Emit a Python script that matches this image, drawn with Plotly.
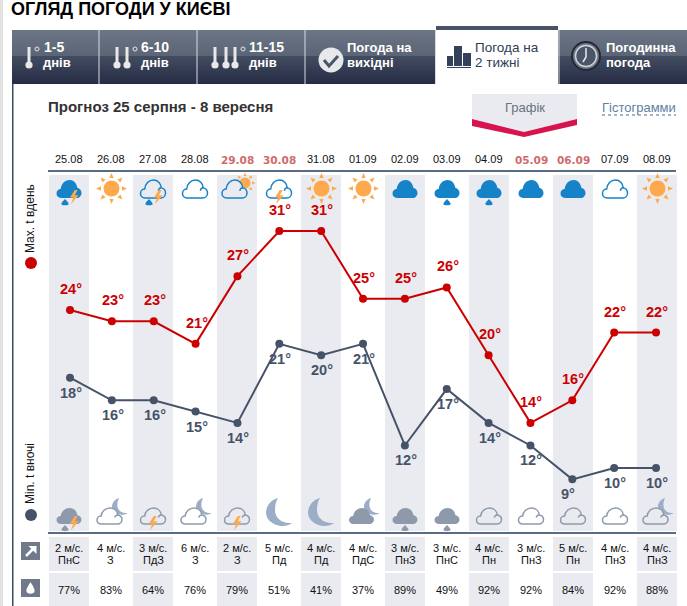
import math
import plotly.graph_objects as go

W, H = 687, 606

# ---- data ----
dates = ["25.08","26.08","27.08","28.08","29.08","30.08","31.08","01.09","02.09","03.09","04.09","05.09","06.09","07.09","08.09"]
weekend = [0,0,0,0,1,1,0,0,0,0,0,1,1,0,0]
max_temps = [24,23,23,21,27,31,31,25,25,26,20,14,16,22,22]
min_temps = [18,16,16,15,14,21,20,21,12,17,14,12,9,10,10]
wind_speed = [2,4,3,6,2,5,4,4,3,3,4,3,5,4,4]
wind_dir = ["ПнС","З","ПдЗ","З","З","Пд","Пд","ПдС","ПнЗ","ПнС","Пн","ПнЗ","Пн","ПнЗ","ПнЗ"]
humidity = [77,83,64,76,79,51,41,37,89,49,92,92,84,92,88]
day_icons = ["fill+drop+bolt","sun","line+drop+bolt","line","line+sun","line+bolt","sun","sun","fill","fill+drop","fill+drop","fill","fill","line","sun"]
night_icons = ["fill+drop+bolt","line+moon","line+bolt","line+moon","line+bolt","moon","moon","fill+moon","fill+drop","fill+drop","line","line","line","line","line+moon"]
tabs = [("1-5","днів"),("6-10","днів"),("11-15","днів"),("Погода на","вихідні"),("Погода на","2 тижні"),("Погодинна","погода")]

# ---- style ----
RED="#cc0000"; SLATE="#465268"; BLUE="#1682c8"; ORANGE="#ffa94d"; NIGHT="#8e9aac"; MOON="#9cadc8"
SHADE="#e9ebf0"; FONT="Liberation Sans"
X0, DX = 70, 41.86
T_REF, Y_REF, PX_DEG = 24, 310, 11.29

shapes=[]; ann=[]
def P(x,y): return f"{x/W:.5f},{1-y/H:.5f}"
def rect(x0,y0,x1,y1,c,layer="below"):
    shapes.append(dict(type="rect",xref="paper",yref="paper",x0=x0/W,x1=x1/W,y0=1-y1/H,y1=1-y0/H,fillcolor=c,line_width=0,layer=layer))
def circle(cx,cy,r,c,line=None,lw=0):
    shapes.append(dict(type="circle",xref="paper",yref="paper",x0=(cx-r)/W,x1=(cx+r)/W,y0=1-(cy+r)/H,y1=1-(cy-r)/H,fillcolor=c,line=dict(color=line or c,width=lw),layer="below"))
def path(cmds,fill=None,line=None,lw=0,closed=True):
    parts=[]
    for cmd in cmds:
        parts.append(cmd[0]+" ".join(P(*p) for p in cmd[1:]))
    s=" ".join(parts)+(" Z" if closed else "")
    d=dict(type="path",xref="paper",yref="paper",path=s,layer="below",line=dict(color=line or "rgba(0,0,0,0)",width=lw))
    if fill: d["fillcolor"]=fill
    shapes.append(d)
def text(x,y,s,size=11,color="#111",bold=False,anchor="center",fam=FONT,angle=0):
    if bold: s=f"<b>{s}</b>"
    ann.append(dict(x=x/W,y=1-y/H,xref="paper",yref="paper",text=s,showarrow=False,xanchor=anchor,yanchor="middle",
                    font=dict(family=fam,size=size,color=color),textangle=angle,borderpad=0,borderwidth=0))

def cloud(x,y,w,h,fill,line,lw):
    sx,sy=w/24,h/16
    q=lambda a,b:(x+a*sx,y+b*sy)
    path([("M",q(4.5,16)),("C",q(1.5,16),q(0,14),q(0,12)),("C",q(0,9.5),q(2,8),q(4,8)),
          ("C",q(4.5,3.5),q(8,0),q(12.5,0)),("C",q(16.5,0),q(19.5,3),q(20,7)),
          ("C",q(22.5,7.5),q(24,9.5),q(24,11.5)),("C",q(24,14),q(22,16),q(19.5,16))],fill=fill,line=line,lw=lw)
    if lw:
        path([("M",q(20,7)),("C",q(18.8,7),q(17.5,8),q(17,9.5))],line=line,lw=lw,closed=False)
def sun(cx,cy,r,ray0,ray1,c=ORANGE):
    for k in range(8):
        a=k*math.pi/4; n=a+math.pi/2; b=1.6*r/7+.3
        path([("M",(cx+ray0*math.cos(a)+b*math.cos(n),cy+ray0*math.sin(a)+b*math.sin(n))),
              ("L",(cx+ray1*math.cos(a),cy+ray1*math.sin(a))),
              ("L",(cx+ray0*math.cos(a)-b*math.cos(n),cy+ray0*math.sin(a)-b*math.sin(n)))],fill=c)
    circle(cx,cy,r,c)
def moon(x,y,s,c=MOON):
    q=lambda a,b:(x+a*s,y+b*s)
    path([("M",q(12,0)),("C",q(2,2),q(-3,14),q(2,21)),("C",q(8,29),q(20,30),q(26,25)),
          ("C",q(16,26),q(9,20),q(9,12)),("C",q(9,7),q(10,3),q(12,0))],fill=c)
def drop(cx,y,s,c,wf=1.0):
    hw=.55*s*wf
    path([("M",(cx,y)),("C",(cx+.7*hw,y+.4*s),(cx+hw,y+.55*s),(cx+hw,y+.75*s)),
          ("C",(cx+hw,y+1.05*s),(cx-hw,y+1.05*s),(cx-hw,y+.75*s)),
          ("C",(cx-hw,y+.55*s),(cx-.7*hw,y+.4*s),(cx,y))],fill=c)
def bolt(x,y,s=1.0,c=ORANGE):
    q=lambda a,b:(x+a*s,y+b*s)
    path([("M",q(5,0)),("L",q(0,8)),("L",q(3.5,8)),("L",q(1,15)),("L",q(9,5.5)),("L",q(5.2,5.5)),("L",q(8,0))],fill=c)

def icon(kind,cx,top,bg,night):
    if kind=="sun":
        sun(cx+.5,top+8.5,8,10.5,15.5); return
    if kind=="moon":
        moon(cx-13,top-10,1.0); return
    parts=kind.split("+")
    filled=parts[0]=="fill"
    main=(NIGHT if night else BLUE)
    w,h=25,(16 if night else 18)
    shift=0
    extra=parts[1:]
    if "moon" in extra:
        moon(cx+1,top-10,.6,MOON); shift=-1.5
    if "sun" in extra:
        sun(cx+8,top+3,5.5,7,10.5); shift=-2.5
    x=cx-w/2+shift
    if filled: cloud(x,top,w,h,main,main,0)
    else: cloud(x,top,w,h,bg,main,1.5)
    if "drop" in extra:
        drop(cx-4 if "bolt" in extra else cx,top+h+1,6.5,main)
    if "bolt" in extra:
        bolt(cx+1 if "drop" in extra else cx-4,top+h-8,.95)

# ---- page furniture ----
rect(0,0,3,H,"#e2e2e2")
rect(12,30,13.5,H,"#3c4a60")
text(11,9,"ОГЛЯД ПОГОДИ У КИЄВІ",size=18,color="#000",bold=True,anchor="left")

# tab bar gradient
def mix(a,b,t): return "#"+"".join(f"{round(a[i]+(b[i]-a[i])*t):02x}" for i in range(3))
for yy in range(30,84):
    if yy<56: col=mix((0x6b,0x75,0x85),(0x5a,0x64,0x75),(yy-30)/26)
    else: col=mix((0x42,0x4c,0x60),(0x25,0x2b,0x44),(yy-56)/28)
    rect(12,yy,W,yy+1,col)
for xx in (98.5,196.5,304.5,435,558.5):
    rect(xx,30,xx+1,84,"#d8dce2")
rect(436,30,558,84,"#ffffff")
rect(436,26,558,30,SLATE)

def thermo(x):
    rect(x-1.5,47,x+1.5,63,"#e8e8e8")
    circle(x,65,3.6,"#e8e8e8")
thermo(29); circle(37,49,2,"rgba(0,0,0,0)","#e8e8e8",1)
thermo(117); thermo(127); circle(135,49,2,"rgba(0,0,0,0)","#e8e8e8",1)
thermo(215); thermo(226); thermo(235); circle(243,49,2,"rgba(0,0,0,0)","#e8e8e8",1)
text(44,47,tabs[0][0],size=14,color="#fff",bold=True,anchor="left")
text(43,63,tabs[0][1],size=13,color="#fff",bold=True,anchor="left")
text(141,47,tabs[1][0],size=14,color="#fff",bold=True,anchor="left")
text(141,63,tabs[1][1],size=13,color="#fff",bold=True,anchor="left")
text(249,47,tabs[2][0],size=14,color="#fff",bold=True,anchor="left")
text(249,63,tabs[2][1],size=13,color="#fff",bold=True,anchor="left")
circle(331,60,12.5,"#e6e8ec")
path([("M",(324,60)),("L",(329,66)),("L",(338,56))],line="#4a5568",lw=3,closed=False)
text(347,48,tabs[3][0],size=13,color="#fff",bold=True,anchor="left")
text(347,63,tabs[3][1],size=13,color="#fff",bold=True,anchor="left")
rect(447,56,453,66,"#33415a"); rect(454,46,462,66,"#33415a"); rect(463,53,471,66,"#33415a"); rect(447,67,471,68,"#33415a")
text(475,48,tabs[4][0],size=13.5,color="#2f3d55",anchor="left")
text(475,63,tabs[4][1],size=13.5,color="#2f3d55",anchor="left")
circle(586,56,14,"#6c7684","#22283a",2)
circle(586,56,10.5,"#4a5568","#cfd4da",1.5)
path([("M",(586,48)),("L",(586,57)),("L",(583,62))],line="#e8e8e8",lw=1.5,closed=False)
text(606,48,tabs[5][0],size=13,color="#fff",bold=True,anchor="left")
text(606,63,tabs[5][1],size=13,color="#fff",bold=True,anchor="left")

text(48,107,"Прогноз 25 серпня - 8 вересня",size=15,color="#333",bold=True,anchor="left")
path([("M",(472,94)),("L",(577,94)),("L",(577,119)),("L",(524,132)),("L",(472,119))],fill=SHADE)
path([("M",(472,119)),("L",(524,132)),("L",(577,119)),("L",(577,125)),("L",(524,137)),("L",(472,126))],fill="#d8144f")
text(524.5,108,"Графік",size=13,color="#6a7280")
text(602,108,"Гістограмми",size=13,color="#5d7f9f",anchor="left")
path([("M",(602,115)),("L",(676,115))],line="#4a6a8a",lw=1,closed=False)
shapes[-1]["line"]["dash"]="dot"

# columns
for i in range(15):
    cx=69+42*i
    if i%2==0:
        rect(cx-20,175,cx+20,531,SHADE)
        rect(cx-20,537,cx+20,571,SHADE)
        rect(cx-20,573,cx+20,606,SHADE)
    if weekend[i]:
        text(cx,160,dates[i],size=10.5,color="#cf6a6c",bold=True,fam="DejaVu Sans")
    else:
        text(cx,159,dates[i],size=11,color="#111")
    text(cx,548,f"{wind_speed[i]} м/с.",size=11)
    text(cx,560,wind_dir[i],size=11)
    text(cx,590,f"{humidity[i]}%",size=11)
    bg=SHADE if i%2==0 else "#ffffff"
    icon(day_icons[i],cx,180,bg,False)
    icon(night_icons[i],cx,508,bg,True)
rect(48,170,676,172,"#5a6b85")
rect(48,532,676,534,"#5a6b85")

# side legend
circle(31,263,6,RED)
text(30,219,"Max. t вдень",size=12,color="#111",angle=-90)
circle(31,515,6,SLATE)
text(30,474,"Min. t вночі",size=12,color="#111",angle=-90)

# wind & humidity icons
rect(21,542,40,560,"#70798a")
path([("M",(26,556)),("L",(34,548))],line="#fff",lw=2.5,closed=False)
path([("M",(28.5,546)),("L",(36.5,546)),("L",(36.5,554))],fill="#fff")
rect(21,579,40,597,"#70798a")
drop(30.5,582,12,"#ffffff",wf=.62)

# ---- chart ----
days=list(range(15))
fig=go.Figure()
fig.add_trace(go.Scatter(x=days,y=min_temps,mode="lines+markers",line=dict(color=SLATE,width=2),marker=dict(color=SLATE,size=8),showlegend=False,hoverinfo="skip"))
fig.add_trace(go.Scatter(x=days,y=max_temps,mode="lines+markers",line=dict(color=RED,width=2),marker=dict(color=RED,size=8),showlegend=False,hoverinfo="skip"))
for d,v in zip(days,max_temps):
    ann.append(dict(x=d,y=v,xref="x",yref="y",text=f"<b>{v}°</b>",showarrow=False,yshift=21,xshift=1,font=dict(family=FONT,size=14.5,color=RED)))
for d,v in zip(days,min_temps):
    ann.append(dict(x=d,y=v,xref="x",yref="y",text=f"<b>{v}°</b>",showarrow=False,yshift=-15,xshift=-4 if v==9 else 1,font=dict(family=FONT,size=14.5,color=SLATE)))

fig.update_layout(width=W,height=H,margin=dict(l=0,r=0,t=0,b=0),paper_bgcolor="#fff",plot_bgcolor="rgba(0,0,0,0)",
    shapes=shapes,annotations=ann,
    xaxis=dict(range=[(0-X0)/DX,(W-X0)/DX],visible=False,fixedrange=True),
    yaxis=dict(range=[T_REF-(H-Y_REF)/PX_DEG,T_REF+Y_REF/PX_DEG],visible=False,fixedrange=True))
fig.write_html("out.html",config=dict(displayModeBar=False),post_script="document.body.style.margin='0';document.body.style.overflow='hidden';")
